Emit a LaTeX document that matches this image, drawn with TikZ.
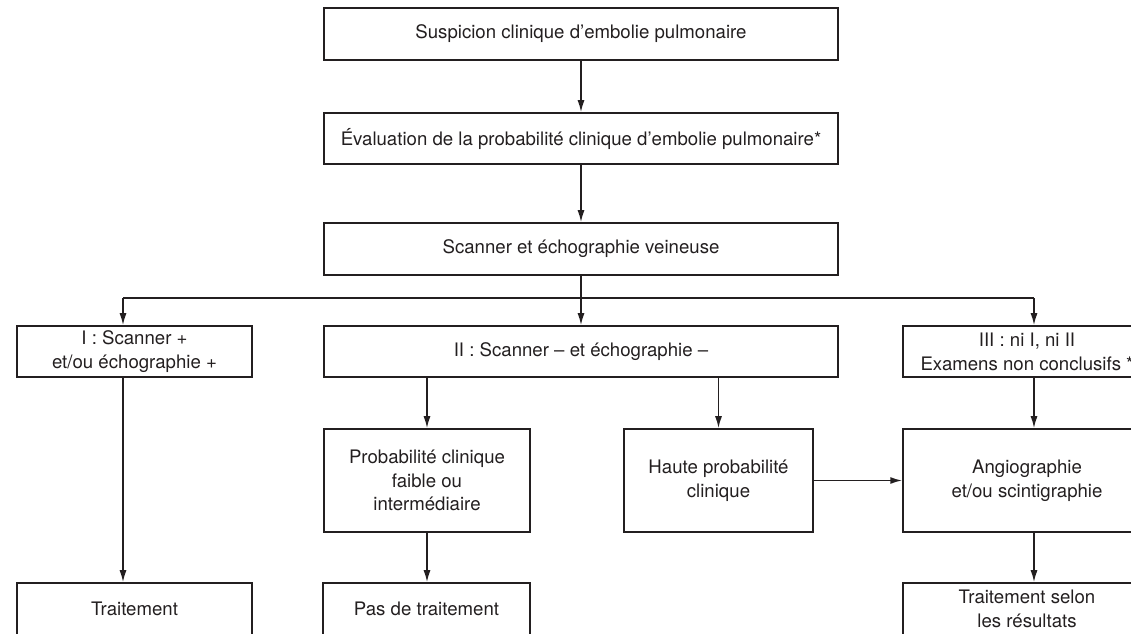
\documentclass[tikz,border=0pt]{standalone}
\usepackage{fontspec}
\setmainfont{TeX Gyre Heros}
\usetikzlibrary{arrows.meta}
\definecolor{ink}{RGB}{35,31,32}

\begin{document}
\begin{tikzpicture}[x=0.02cm, y=-0.02cm,
    box/.style={draw=ink, line width=0.9pt, text=ink, align=center, inner sep=0pt,
        font=\fontsize{10.6}{13.5}\selectfont},
    link/.style={draw=ink, line width=0.9pt},
    arr/.style={link, -{Latex[length=2.4mm, width=1.4mm]}}]
    \clip (0,0) rectangle (1131,633);

    % Top column
    \node[box, minimum width=10.28cm, minimum height=1.04cm] (susp) at (581,34) {Suspicion clinique d’embolie pulmonaire};
    \node[box, minimum width=10.28cm, minimum height=1.02cm] (eval) at (581,138.5) {Évaluation de la probabilité clinique d’embolie pulmonaire*};
    \node[box, minimum width=10.28cm, minimum height=1.04cm] (scan) at (581,249) {Scanner et échographie veineuse};

    % Three results
    \node[box, minimum width=4.7cm, minimum height=1.02cm] (one) at (134.5,351.5) {I : Scanner +\\et/ou échographie +};
    \node[box, minimum width=10.28cm, minimum height=1.02cm] (two) at (581,351.5) {II : Scanner – et échographie –};
    \node[box, minimum width=4.96cm, minimum height=1.02cm] (three) at (1027,351.5) {III : ni I, ni II\\Examens non conclusifs *};

    % Clinical probability
    \node[box, minimum width=4.12cm, minimum height=2.06cm] (low) at (427,480.5) {Probabilité clinique\\faible ou\\intermédiaire};
    \node[box, minimum width=3.78cm, minimum height=2.06cm] (high) at (718.5,480.5) {Haute probabilité\\clinique};
    \node[box, minimum width=4.96cm, minimum height=2.06cm] (angio) at (1027,480.5) {Angiographie\\et/ou scintigraphie};

    % Outcomes
    \node[box, minimum width=4.7cm, minimum height=1.04cm] (treat) at (134.5,609) {Traitement};
    \node[box, minimum width=4.14cm, minimum height=1.04cm] (notreat) at (426.5,609) {Pas de traitement};
    \node[box, minimum width=4.96cm, minimum height=1.04cm] (byres) at (1027,609) {Traitement selon\\les résultats};

    % Branch line
    \coordinate (busL) at (123,298);
    \coordinate (busR) at (1034,298);
    \draw[link] (busL) -- (busR);

    % Arrows
    \foreach \a/\b in {susp/eval, eval/scan, scan/two, high/angio}
        \draw[arr] (\a) -- (\b);
    \draw[arr] (busL) -- (busL |- one.north);
    \draw[arr] (busR) -- (busR |- three.north);
    \draw[arr] (busR |- three.south) -- (busR |- angio.north);
    \draw[arr] (busR |- angio.south) -- (busR |- byres.north);
    \draw[arr] (busL |- one.south) -- (busL |- treat.north);
    \draw[arr] (low.north |- two.south) -- (low.north);
    \draw[arr] (high.north |- two.south) -- (high.north);
    \draw[arr] (low.south) -- (low.south |- notreat.north);

\end{tikzpicture}
\end{document}
